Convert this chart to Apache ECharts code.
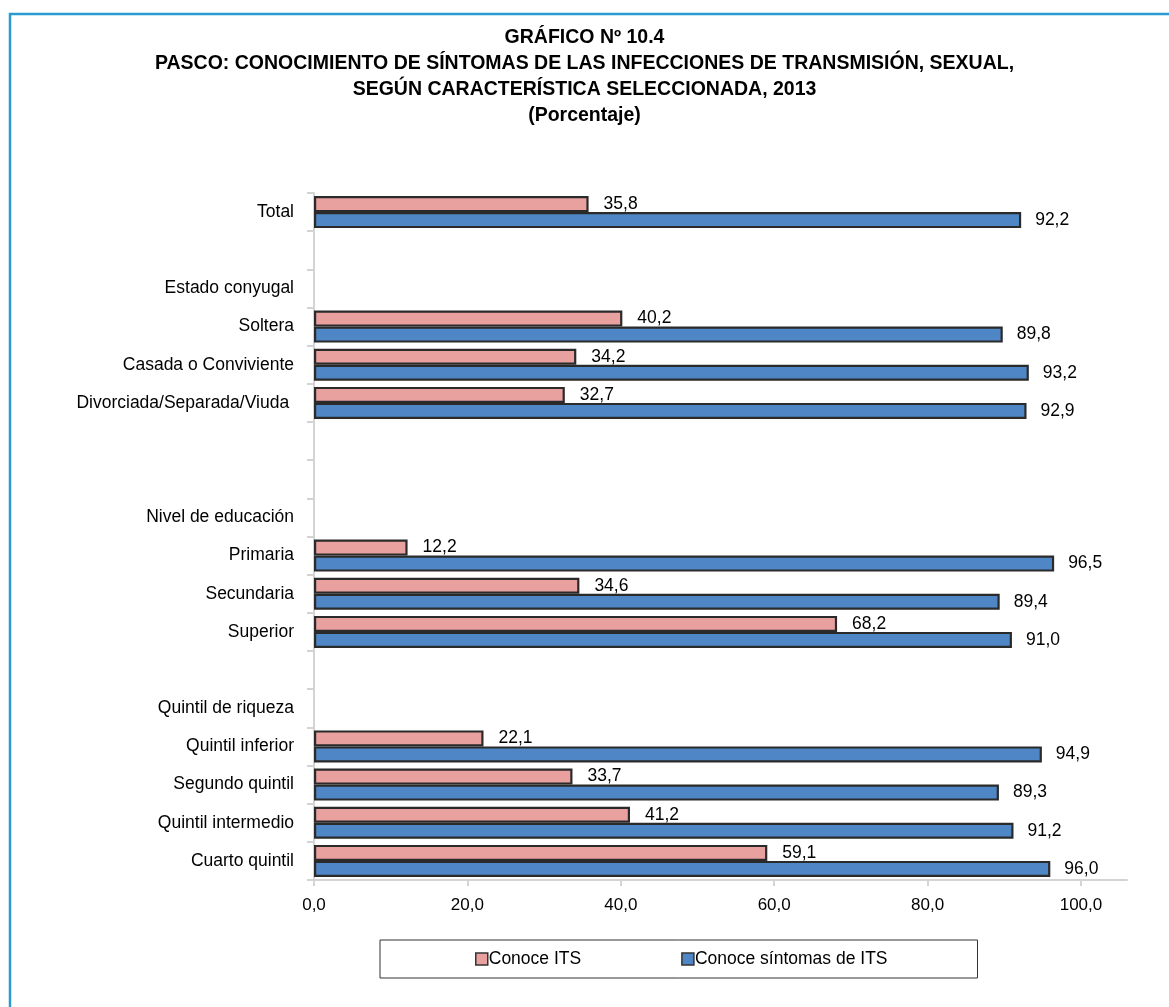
<!DOCTYPE html>
<html>
<head>
<meta charset="utf-8">
<script src="https://cdn.jsdelivr.net/npm/echarts@6/dist/echarts.min.js"></script>
<style>
  html, body { margin: 0; padding: 0; background: #fff; }
  #main { width: 1169px; height: 1007px; }
</style>
</head>
<body>
<div id="main"></div>
<script>
// categorias (las vacias separan los grupos)
var categorias = [
  "Total", "", "Estado conyugal", "Soltera", "Casada o Conviviente",
  "Divorciada/Separada/Viuda ", " ", "  ", "Nivel de educación", "Primaria",
  "Secundaria", "Superior", "   ", "Quintil de riqueza", "Quintil inferior",
  "Segundo quintil", "Quintil intermedio", "Cuarto quintil"
];
var conoceITS = [
  35.8, null, null, 40.2, 34.2, 32.7, null, null, null, 12.2,
  34.6, 68.2, null, null, 22.1, 33.7, 41.2, 59.1
];
var conoceSintomas = [
  92.2, null, null, 89.8, 93.2, 92.9, null, null, null, 96.5,
  89.4, 91.0, null, null, 94.9, 89.3, 91.2, 96.0
];
var ticksX = [0, 20, 40, 60, 80, 100];

var fuente = "'Liberation Sans', Arial, sans-serif";

var dom = document.getElementById("main");
var myChart = echarts.init(dom, null, { renderer: "canvas" });

function coma(v) {
  return Number(v).toFixed(1).replace(".", ",");
}

var option = {
  backgroundColor: "#fff",
  animation: false,
  title: {
    text: "GRÁFICO Nº 10.4\nPASCO: CONOCIMIENTO DE SÍNTOMAS DE LAS INFECCIONES DE TRANSMISIÓN, SEXUAL,\nSEGÚN CARACTERÍSTICA SELECCIONADA, 2013\n(Porcentaje)",
    left: "center",
    top: 25,
    padding: 0,
    textStyle: {
      fontFamily: fuente,
      fontSize: 19.5,
      fontWeight: "bold",
      color: "#000",
      lineHeight: 26,
    },
  },
  graphic: [
    {
      // marco azul
      type: "rect",
      shape: { x: 10, y: 14, width: 1200, height: 1100 },
      style: { fill: "none", stroke: "#2b9ad0", lineWidth: 2.5 },
    },
  ],
  legend: {
    data: ["Conoce ITS", "Conoce síntomas de ITS"],
    left: 380,
    top: 940,
    padding: [10, 90, 10, 95],
    itemGap: 100,
    itemWidth: 12,
    itemHeight: 12,
    borderColor: "#333",
    borderWidth: 1,
    icon: "rect",
    itemStyle: { borderColor: "#333", borderWidth: 1.5 },
    textStyle: { fontFamily: fuente, fontSize: 17.5, color: "#000", padding: [0, 0, 0, -4] },
  },
  grid: {
    left: 314,
    right: 42,
    top: 193,
    bottom: 127,
  },
  xAxis: {
    type: "value",
    min: 0,
    max: 106,
    splitLine: { show: false },
    axisLine: { show: true, lineStyle: { color: "#d4d4d4", width: 2 } },
    axisTick: {
      show: true,
      length: 6,
      customValues: ticksX,
      lineStyle: { color: "#d4d4d4", width: 2 },
    },
    axisLabel: {
      customValues: ticksX,
      margin: 17,
      fontFamily: fuente,
      fontSize: 17,
      color: "#000",
      formatter: coma,
    },
  },
  yAxis: {
    type: "category",
    inverse: true,
    data: categorias,
    axisLine: { show: true, lineStyle: { color: "#d4d4d4", width: 2 } },
    axisTick: { show: true, length: 7, lineStyle: { color: "#d4d4d4", width: 2 } },
    axisLabel: {
      margin: 20,
      fontFamily: fuente,
      fontSize: 17.5,
      color: "#000",
    },
  },
  series: [
    {
      name: "Conoce ITS",
      type: "bar",
      data: conoceITS,
      barGap: "0%",
      barCategoryGap: "16%",
      itemStyle: { color: "#e9a1a0", borderColor: "#2a2a2a", borderWidth: 2.2 },
      label: {
        show: true,
        position: "right",
        distance: 15,
        fontFamily: fuente,
        fontSize: 17.5,
        color: "#000",
        formatter: function (p) { return coma(p.value); },
      },
    },
    {
      name: "Conoce síntomas de ITS",
      type: "bar",
      data: conoceSintomas,
      itemStyle: { color: "#4f87c6", borderColor: "#2a2a2a", borderWidth: 2.2 },
      label: {
        show: true,
        position: "right",
        distance: 14,
        fontFamily: fuente,
        fontSize: 17.5,
        color: "#000",
        formatter: function (p) { return coma(p.value); },
      },
    },
  ],
};

myChart.setOption(option);
</script>
</body>
</html>
